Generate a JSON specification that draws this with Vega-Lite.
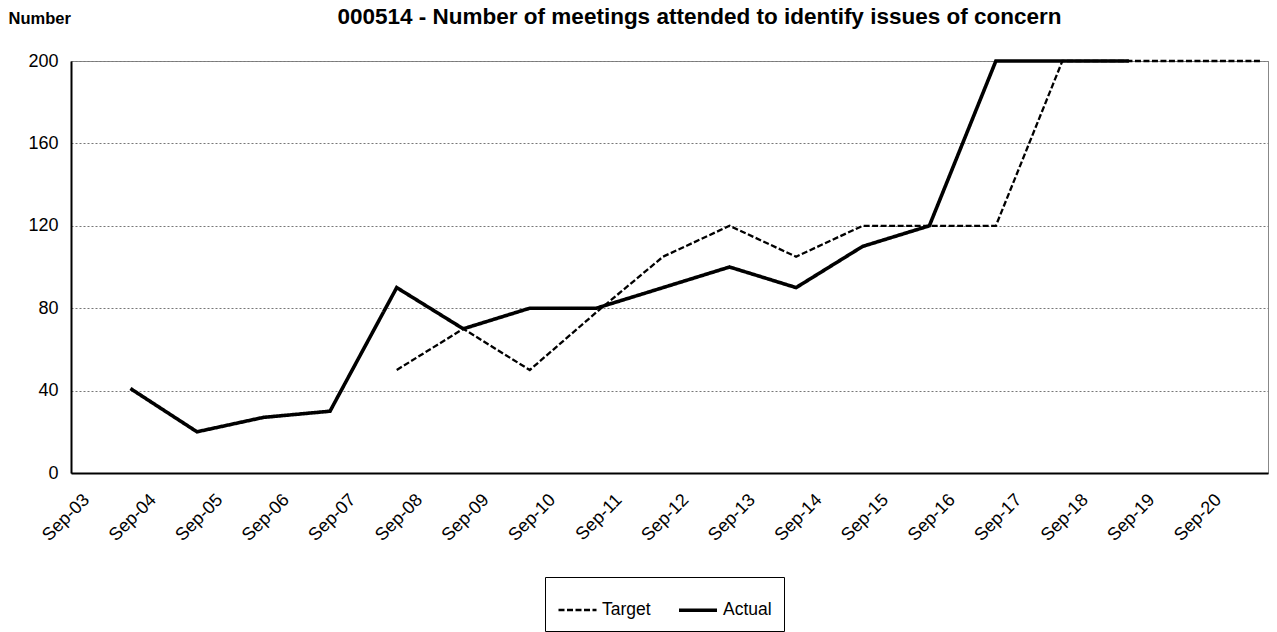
{
  "$schema": "https://vega.github.io/schema/vega-lite/v6.json",
  "width": 1197,
  "height": 412,
  "autosize": {"type": "none"},
  "padding": {"left": 71, "top": 61, "right": 9, "bottom": 159},
  "background": "white",
  "title": {
    "text": "000514 - Number of meetings attended to identify issues of concern",
    "frame": "group",
    "anchor": "middle",
    "dx": 30,
    "offset": -29,
    "baseline": "middle",
    "fontSize": 22.5,
    "fontWeight": "bold",
    "color": "black"
  },
  "data": {
    "values": [
      {"date": "2004-04-30", "series": "Actual", "value": 41},
      {"date": "2005-04-30", "series": "Actual", "value": 20},
      {"date": "2006-04-30", "series": "Actual", "value": 27},
      {"date": "2007-04-30", "series": "Actual", "value": 30},
      {"date": "2008-04-30", "series": "Actual", "value": 90},
      {"date": "2009-04-30", "series": "Actual", "value": 70},
      {"date": "2010-04-30", "series": "Actual", "value": 80},
      {"date": "2011-04-30", "series": "Actual", "value": 80},
      {"date": "2012-04-30", "series": "Actual", "value": 90},
      {"date": "2013-04-30", "series": "Actual", "value": 100},
      {"date": "2014-04-30", "series": "Actual", "value": 90},
      {"date": "2015-04-30", "series": "Actual", "value": 110},
      {"date": "2016-04-30", "series": "Actual", "value": 120},
      {"date": "2017-04-30", "series": "Actual", "value": 200},
      {"date": "2018-04-30", "series": "Actual", "value": 200},
      {"date": "2019-04-30", "series": "Actual", "value": 200},
      {"date": "2008-04-30", "series": "Target", "value": 50},
      {"date": "2009-04-30", "series": "Target", "value": 70},
      {"date": "2010-04-30", "series": "Target", "value": 50},
      {"date": "2011-04-30", "series": "Target", "value": 78},
      {"date": "2012-04-30", "series": "Target", "value": 105},
      {"date": "2013-04-30", "series": "Target", "value": 120},
      {"date": "2014-04-30", "series": "Target", "value": 105},
      {"date": "2015-04-30", "series": "Target", "value": 120},
      {"date": "2016-04-30", "series": "Target", "value": 120},
      {"date": "2017-04-30", "series": "Target", "value": 120},
      {"date": "2018-04-30", "series": "Target", "value": 200},
      {"date": "2019-04-30", "series": "Target", "value": 200},
      {"date": "2020-04-30", "series": "Target", "value": 200},
      {"date": "2021-04-30", "series": "Target", "value": 200}
    ]
  },
  "mark": {"type": "line", "strokeCap": "butt", "strokeJoin": "miter"},
  "encoding": {
    "x": {
      "field": "date",
      "type": "temporal",
      "scale": {"domain": [{"year": 2003, "month": 6, "date": 9}, {"year": 2021, "month": 6, "date": 1}]},
      "axis": {
        "title": null,
        "format": "%b-%y",
        "values": [
          {"year": 2003, "month": 9, "date": 1}, {"year": 2004, "month": 9, "date": 1},
          {"year": 2005, "month": 9, "date": 1}, {"year": 2006, "month": 9, "date": 1},
          {"year": 2007, "month": 9, "date": 1}, {"year": 2008, "month": 9, "date": 1},
          {"year": 2009, "month": 9, "date": 1}, {"year": 2010, "month": 9, "date": 1},
          {"year": 2011, "month": 9, "date": 1}, {"year": 2012, "month": 9, "date": 1},
          {"year": 2013, "month": 9, "date": 1}, {"year": 2014, "month": 9, "date": 1},
          {"year": 2015, "month": 9, "date": 1}, {"year": 2016, "month": 9, "date": 1},
          {"year": 2017, "month": 9, "date": 1}, {"year": 2018, "month": 9, "date": 1},
          {"year": 2019, "month": 9, "date": 1}, {"year": 2020, "month": 9, "date": 1}
        ],
        "labelAngle": -45,
        "labelAlign": "right",
        "labelBaseline": "middle",
        "labelPadding": 24,
        "ticks": false,
        "grid": false,
        "labelOverlap": false,
        "labelFlush": false,
        "domainColor": "black",
        "domainWidth": 2
      }
    },
    "y": {
      "field": "value",
      "type": "quantitative",
      "scale": {"domain": [0, 200], "nice": false},
      "axis": {
        "title": "Number",
        "titleAngle": 0,
        "titleX": -63,
        "titleY": -43,
        "titleAlign": "left",
        "titleBaseline": "middle",
        "titleFontSize": 16.5,
        "titleFontWeight": "bold",
        "titleColor": "black",
        "values": [0, 40, 80, 120, 160, 200],
        "ticks": false,
        "labelPadding": 13,
        "grid": true,
        "gridColor": "#777777",
        "gridDash": [2, 2],
        "gridWidth": 1,
        "domainColor": "black",
        "domainWidth": 2
      }
    },
    "color": {
      "field": "series",
      "type": "nominal",
      "scale": {"domain": ["Target", "Actual"], "range": ["black", "black"]}
    },
    "strokeDash": {
      "field": "series",
      "type": "nominal",
      "scale": {"domain": ["Target", "Actual"], "range": [[6, 2.5], [1, 0]]}
    },
    "strokeWidth": {
      "field": "series",
      "type": "nominal",
      "scale": {"domain": ["Target", "Actual"], "range": [2.3, 3.6]}
    }
  },
  "config": {
    "font": "Liberation Sans",
    "view": {"stroke": "#888888", "strokeWidth": 1},
    "axis": {"labelFontSize": 18, "labelColor": "black", "labelFont": "Liberation Sans"},
    "legend": {
      "orient": "none",
      "legendX": 474,
      "legendY": 516,
      "direction": "horizontal",
      "title": null,
      "symbolType": "stroke",
      "symbolSize": 1444,
      "labelFontSize": 17.5,
      "labelColor": "black",
      "labelOffset": 4,
      "columnPadding": 20,
      "padding": 12,
      "symbolOffset": 0,
      "strokeColor": "black",
      "fillColor": "white"
    }
  }
}
